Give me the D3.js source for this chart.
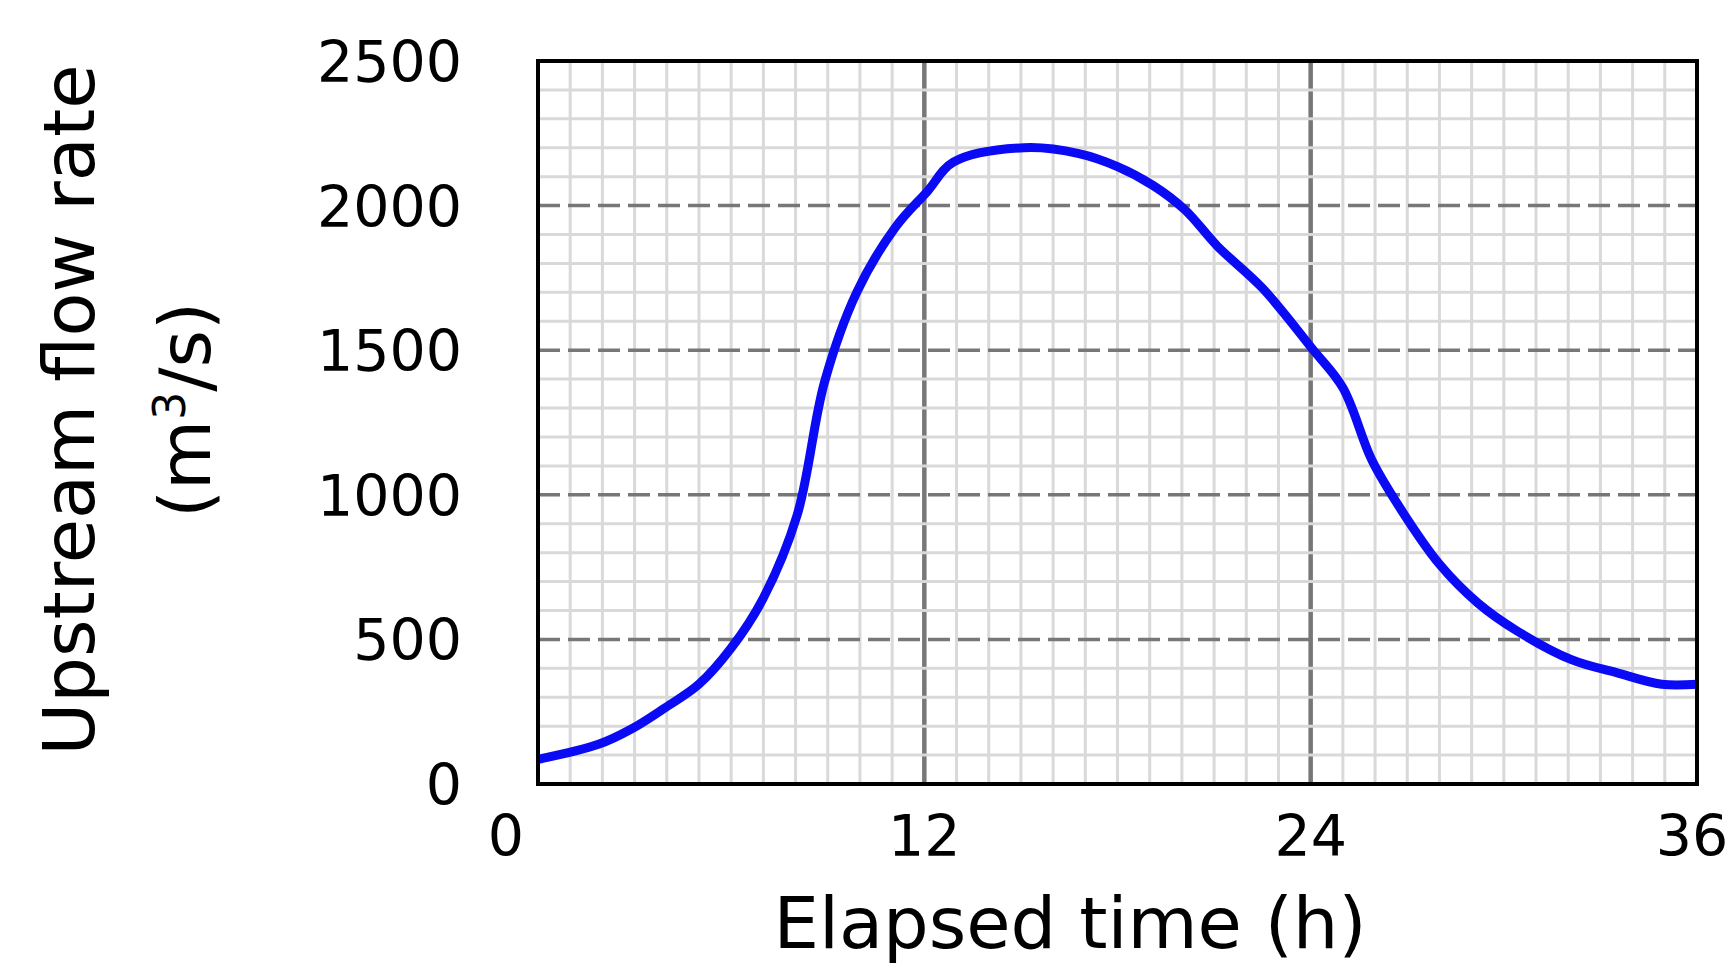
<!DOCTYPE html><html><head><script src="https://cdn.jsdelivr.net/npm/d3@7"></script>
<style>body{margin:0;background:#fff}</style></head><body><svg id="c" width="1736" height="980"></svg>
<script>
const hours=[0,1.9,2.9,3.9,5,6,7,8.05,8.9,9.9,11.1,12.1,12.9,15.1,16.8,18,19.1,20.1,21.1,22.5,24.05,25,25.9,26.8,28,29.2,30.4,32.1,33.5,34.9,36];
const flow=[85,138,190,260,345,470,643,930,1390,1700,1925,2050,2150,2200,2180,2135,2070,1985,1860,1715,1505,1370,1120,950,760,625,530,430,385,345,345];
const xTicks=[0,12,24,36];
const yTicks=[0,500,1000,1500,2000,2500];
const svg=d3.select("#c");
const L=538,R=1697,T=61,B=784;
const x=d3.scaleLinear().domain([0,36]).range([L,R]);
const y=d3.scaleLinear().domain([0,2500]).range([B,T]);
const g=svg.append("g");
g.selectAll(".vx").data(d3.range(1,36)).join("line").attr("x1",d=>x(d)).attr("x2",d=>x(d)).attr("y1",T).attr("y2",B)
 .attr("stroke",d=>d%12===0?"#777":"#d9d9d9").attr("stroke-width",d=>d%12===0?4.5:3);
g.selectAll(".hy").data(d3.range(100,2500,100)).join("line").attr("y1",d=>y(d)).attr("y2",d=>y(d)).attr("x1",L).attr("x2",R)
 .attr("stroke",d=>d%500===0?"#777":"#d9d9d9").attr("stroke-width",d=>d%500===0?3.5:3)
 .attr("stroke-dasharray",d=>d%500===0?"22,8":null);
const line=d3.line().x((d,i)=>x(hours[i])).y(d=>y(d)).curve(d3.curveCatmullRom);
g.append("path").attr("d",line(flow)).attr("fill","none").attr("stroke","#0a0af5").attr("stroke-width",9).attr("stroke-linejoin","round");
g.append("rect").attr("x",L).attr("y",T).attr("width",R-L).attr("height",B-T).attr("fill","none").attr("stroke","#000").attr("stroke-width",4);
const F="'DejaVu Sans','Noto Sans',sans-serif";
svg.selectAll(".yt").data(yTicks).join("text").attr("x",462).attr("y",d=>y(d)+21).attr("text-anchor","end")
 .attr("font-family",F).attr("font-size",57).text(d=>d);
svg.selectAll(".xt").data(xTicks).join("text").attr("x",d=>x(d)+(d===0?-32:d===36?-5:0)).attr("y",856).attr("text-anchor","middle")
 .attr("font-family",F).attr("font-size",57).text(d=>d);
svg.append("text").attr("x",1070).attr("y",948).attr("text-anchor","middle").attr("font-family",F).attr("font-size",72).text("Elapsed time (h)");
const yl=svg.append("text").attr("transform","translate(0,410) rotate(-90)").attr("text-anchor","middle").attr("font-family",F).attr("font-size",72);
yl.append("tspan").attr("x",0).attr("y",94).text("Upstream flow rate");
const t2=yl.append("tspan").attr("x",0).attr("y",210);
t2.append("tspan").text("(m");t2.append("tspan").attr("baseline-shift","super").attr("font-size",44).text("3");t2.append("tspan").text("/s)");
</script></body></html>
